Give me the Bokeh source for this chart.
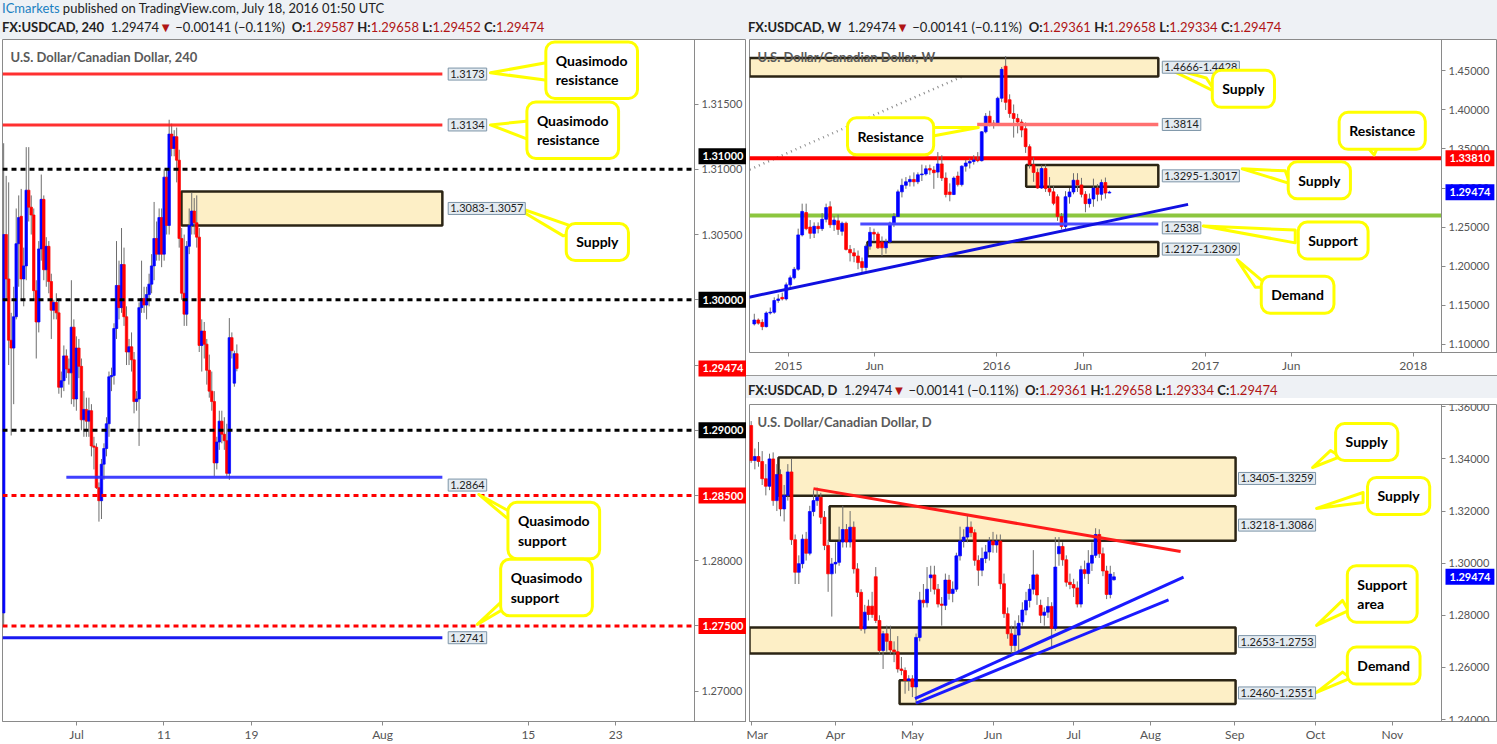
import numpy as np
import pandas as pd
from bokeh.plotting import figure
from bokeh.models import Range1d, FixedTicker, NumeralTickFormatter, Label, Div, ColumnDataSource
from bokeh.layouts import row, column
from bokeh.embed import file_html
from bokeh.resources import INLINE

# ------------------------------------------------------------------ data
# 4-hour candles, 24 Jun 2016 00:00 -> 18 Jul 2016 00:00
h4_first_day = "2016-06-24"
h4_last_day = "2016-07-18"
h4_open = [1.2760, 1.3050, 1.3016, 1.2969, 1.2963, 1.2987, 1.3043, 1.3064, 1.3016, 1.3026,
           1.3084, 1.3071, 1.3065, 1.3007, 1.2983, 1.3039, 1.3077, 1.3023, 1.3041, 1.3014,
           1.2992, 1.2998, 1.2990, 1.2933, 1.2938, 1.2957, 1.2947, 1.2944, 1.2979, 1.2924,
           1.2963, 1.2949, 1.2908, 1.2916, 1.2907, 1.2915, 1.2888, 1.2887, 1.2856, 1.2846,
           1.2874, 1.2886, 1.2905, 1.2941, 1.2942, 1.2978, 1.3011, 1.2994, 1.3027, 1.2987,
           1.2960, 1.2964, 1.2954, 1.2922, 1.2924, 1.2994, 1.3001, 1.2996, 1.3004, 1.3012,
           1.3026, 1.3047, 1.3035, 1.3063, 1.3035, 1.3094, 1.3057, 1.3127, 1.3116, 1.3125,
           1.3107, 1.3047, 1.3005, 1.2989, 1.3041, 1.3057, 1.3068, 1.3059, 1.3048, 1.2965,
           1.2976, 1.2966, 1.2946, 1.2930, 1.2922, 1.2875, 1.2891, 1.2907, 1.2897, 1.2892,
           1.2867, 1.2971, 1.29361, 1.29587]
h4_high = [1.3120, 1.3095, 1.3090, 1.2990, 1.3010, 1.3070, 1.3080, 1.3085, 1.3040, 1.3117,
           1.3117, 1.3080, 1.3070, 1.3015, 1.3045, 1.3096, 1.3080, 1.3048, 1.3045, 1.3020,
           1.3000, 1.3005, 1.3000, 1.2945, 1.2965, 1.2962, 1.2955, 1.3015, 1.2985, 1.2972,
           1.2970, 1.2955, 1.2930, 1.2925, 1.2925, 1.2920, 1.2895, 1.2890, 1.2860, 1.2878,
           1.2890, 1.2910, 1.2945, 1.2948, 1.2982, 1.3045, 1.3030, 1.3055, 1.3040, 1.2995,
           1.2970, 1.2975, 1.2960, 1.2930, 1.2998, 1.3030, 1.3010, 1.3010, 1.3020, 1.3035,
           1.3075, 1.3060, 1.3070, 1.3070, 1.3100, 1.3100, 1.3138, 1.3135, 1.3130, 1.3132,
           1.3115, 1.3055, 1.3050, 1.3045, 1.3070, 1.3082, 1.3078, 1.3080, 1.3055, 1.2985,
           1.2983, 1.2970, 1.2958, 1.2945, 1.2930, 1.2895, 1.2915, 1.2915, 1.2910, 1.2905,
           1.2986, 1.2975, 1.29610, 1.29658]
h4_low = [1.2750, 1.3000, 1.2950, 1.2896, 1.2920, 1.2985, 1.3010, 1.3000, 1.2995, 1.3015,
          1.3060, 1.3050, 1.3000, 1.2955, 1.2975, 1.3030, 1.3015, 1.3010, 1.3005, 1.2970,
          1.2985, 1.2985, 1.2928, 1.2925, 1.2930, 1.2940, 1.2935, 1.2920, 1.2918, 1.2915,
          1.2940, 1.2900, 1.2895, 1.2895, 1.2895, 1.2880, 1.2870, 1.2855, 1.2830, 1.2832,
          1.2862, 1.2880, 1.2895, 1.2930, 1.2935, 1.2970, 1.2985, 1.2990, 1.2980, 1.2950,
          1.2950, 1.2945, 1.2913, 1.2915, 1.2888, 1.2990, 1.2990, 1.2985, 1.2995, 1.3005,
          1.3015, 1.3030, 1.3030, 1.3025, 1.3030, 1.3050, 1.3050, 1.3110, 1.3110, 1.3090,
          1.3040, 1.3000, 1.2980, 1.2980, 1.3035, 1.3050, 1.3050, 1.3040, 1.2960, 1.2945,
          1.2955, 1.2935, 1.2925, 1.2915, 1.2865, 1.2870, 1.2885, 1.2890, 1.2885, 1.2865,
          1.2862, 1.2955, 1.29334, 1.29452]
h4_close = [1.3050, 1.3016, 1.2969, 1.2963, 1.2987, 1.3043, 1.3063, 1.3016, 1.3026, 1.3084,
            1.3071, 1.3065, 1.3007, 1.2983, 1.3039, 1.3077, 1.3023, 1.3041, 1.3014, 1.2992,
            1.2998, 1.2990, 1.2933, 1.2938, 1.2957, 1.2947, 1.2944, 1.2979, 1.2924, 1.2963,
            1.2949, 1.2908, 1.2916, 1.2907, 1.2915, 1.2888, 1.2887, 1.2856, 1.2846, 1.2874,
            1.2886, 1.2905, 1.2941, 1.2942, 1.2978, 1.3011, 1.2994, 1.3027, 1.2987, 1.2960,
            1.2964, 1.2954, 1.2922, 1.2924, 1.2994, 1.3001, 1.2996, 1.3004, 1.3012, 1.3026,
            1.3047, 1.3035, 1.3063, 1.3035, 1.3094, 1.3057, 1.3127, 1.3116, 1.3125, 1.3107,
            1.3047, 1.3005, 1.2989, 1.3041, 1.3057, 1.3068, 1.3059, 1.3048, 1.2965, 1.2976,
            1.2966, 1.2946, 1.2930, 1.2922, 1.2875, 1.2891, 1.2907, 1.2897, 1.2892, 1.2867,
            1.2971, 1.2961, 1.29587, 1.29474]
h4_tick_dates = ["2016-07-01", "2016-07-11", "2016-07-19", "2016-08-01", "2016-08-15", "2016-08-23"]
h4_tick_labels = ["Jul", "11", "19", "Aug", "15", "23"]

# weekly candles, week of 2 Nov 2014 -> week of 17 Jul 2016
w_first_week = "2014-11-02"
w_open = [1.1260, 1.1310, 1.1280, 1.1225, 1.1400, 1.1410, 1.1560, 1.1600, 1.1580, 1.1760,
          1.1850, 1.1960, 1.2400, 1.2686, 1.2500, 1.2420, 1.2510, 1.2480, 1.2600, 1.2760,
          1.2530, 1.2580, 1.2446, 1.2550, 1.2214, 1.2170, 1.2130, 1.2058, 1.1982, 1.2256,
          1.2433, 1.2412, 1.2310, 1.2234, 1.2310, 1.2551, 1.2635, 1.2951, 1.3035, 1.3080,
          1.3110, 1.3080, 1.3170, 1.3180, 1.3250, 1.3230, 1.3204, 1.3309, 1.3128, 1.2950,
          1.2917, 1.3153, 1.3044, 1.3280, 1.3320, 1.3340, 1.3360, 1.3350, 1.3720, 1.3920,
          1.3830, 1.3810, 1.4150, 1.4560, 1.4131, 1.3954, 1.3891, 1.3845, 1.3760, 1.3530,
          1.3300, 1.3200, 1.3000, 1.3250, 1.2993, 1.2951, 1.2888, 1.2635, 1.2508, 1.2888,
          1.2950, 1.3100, 1.3040, 1.2920, 1.2800, 1.2860, 1.3000, 1.2920, 1.3070, 1.29361]
w_high = [1.1390, 1.1330, 1.1320, 1.1420, 1.1470, 1.1600, 1.1640, 1.1660, 1.1790, 1.1880,
          1.1990, 1.2480, 1.2800, 1.2800, 1.2590, 1.2560, 1.2560, 1.2680, 1.2800, 1.2830,
          1.2640, 1.2660, 1.2570, 1.2570, 1.2270, 1.2230, 1.2200, 1.2110, 1.2280, 1.2500,
          1.2480, 1.2440, 1.2380, 1.2350, 1.2570, 1.2680, 1.2980, 1.3120, 1.3140, 1.3160,
          1.3200, 1.3200, 1.3300, 1.3290, 1.3300, 1.3280, 1.3460, 1.3420, 1.3200, 1.3060,
          1.3150, 1.3210, 1.3290, 1.3360, 1.3380, 1.3420, 1.3460, 1.3730, 1.3960, 1.3990,
          1.3870, 1.4170, 1.4550, 1.4690, 1.4200, 1.4070, 1.3950, 1.3880, 1.3840, 1.3560,
          1.3390, 1.3250, 1.3290, 1.3300, 1.3140, 1.3030, 1.2920, 1.2680, 1.2960, 1.3000,
          1.3190, 1.3190, 1.3130, 1.2960, 1.2930, 1.3120, 1.3050, 1.3110, 1.3134, 1.29658]
w_low = [1.1240, 1.1250, 1.1180, 1.1215, 1.1380, 1.1390, 1.1530, 1.1560, 1.1560, 1.1720,
         1.1830, 1.1940, 1.2380, 1.2460, 1.2350, 1.2360, 1.2420, 1.2450, 1.2560, 1.2490,
         1.2450, 1.2400, 1.2390, 1.2200, 1.2060, 1.2050, 1.1960, 1.1920, 1.1940, 1.2210,
         1.2330, 1.2220, 1.2130, 1.2160, 1.2290, 1.2500, 1.2630, 1.2880, 1.2990, 1.3020,
         1.3020, 1.3050, 1.3090, 1.3160, 1.3170, 1.2990, 1.3130, 1.3090, 1.2880, 1.2830,
         1.2910, 1.3020, 1.3020, 1.3210, 1.3250, 1.3300, 1.3330, 1.3340, 1.3700, 1.3790,
         1.3760, 1.3800, 1.4100, 1.4000, 1.3900, 1.3646, 1.3700, 1.3650, 1.3450, 1.3250,
         1.3080, 1.2990, 1.2990, 1.2950, 1.2900, 1.2780, 1.2580, 1.2470, 1.2460, 1.2800,
         1.2920, 1.2950, 1.2880, 1.2690, 1.2750, 1.2760, 1.2830, 1.2840, 1.2864, 1.29334]
w_close = [1.1310, 1.1270, 1.1225, 1.1400, 1.1410, 1.1560, 1.1580, 1.1580, 1.1760, 1.1850,
           1.1960, 1.2400, 1.2700, 1.2480, 1.2420, 1.2510, 1.2480, 1.2600, 1.2750, 1.2530,
           1.2590, 1.2470, 1.2550, 1.2214, 1.2170, 1.2130, 1.2045, 1.1982, 1.2256, 1.2433,
           1.2410, 1.2234, 1.2234, 1.2310, 1.2551, 1.2635, 1.2951, 1.3035, 1.3080, 1.3110,
           1.3080, 1.3170, 1.3180, 1.3246, 1.3230, 1.3196, 1.3309, 1.3128, 1.2917, 1.2917,
           1.3128, 1.3044, 1.3280, 1.3320, 1.3340, 1.3360, 1.3350, 1.3720, 1.3920, 1.3830,
           1.3810, 1.4150, 1.4520, 1.4097, 1.3954, 1.3891, 1.3845, 1.3743, 1.3530, 1.3300,
           1.3200, 1.3000, 1.3250, 1.2993, 1.2951, 1.2804, 1.2635, 1.2508, 1.2888, 1.2950,
           1.3100, 1.3040, 1.2920, 1.2800, 1.2860, 1.3000, 1.2920, 1.3070, 1.2936, 1.29474]
w_tick_dates = ["2015-01-01", "2015-06-01", "2016-01-01", "2016-06-01", "2017-01-01", "2017-06-01", "2018-01-01"]
w_tick_labels = ["2015", "Jun", "2016", "Jun", "2017", "Jun", "2018"]

# daily candles, 1 Mar 2016 -> 18 Jul 2016 (business days)
d_first_day = "2016-03-01"
d_last_day = "2016-07-18"
d_open = [1.3528, 1.3394, 1.3409, 1.3390, 1.3324, 1.3295, 1.3400, 1.3240, 1.3340, 1.3208,
          1.3260, 1.3350, 1.3090, 1.2965, 1.2998, 1.3092, 1.3038, 1.3198, 1.3240, 1.3253,
          1.3176, 1.3068, 1.2959, 1.2997, 1.3003, 1.3081, 1.3129, 1.3081, 1.3138, 1.2978,
          1.2888, 1.2748, 1.2835, 1.2835, 1.2948, 1.2780, 1.2665, 1.2729, 1.2700, 1.2667,
          1.2660, 1.2594, 1.2588, 1.2550, 1.2556, 1.2525, 1.2715, 1.2858, 1.2848, 1.2944,
          1.2955, 1.2900, 1.2843, 1.2838, 1.2935, 1.2884, 1.2900, 1.3028, 1.3085, 1.3100,
          1.3138, 1.3117, 1.3011, 1.2973, 1.3018, 1.3043, 1.3085, 1.3070, 1.3085, 1.2921,
          1.2806, 1.2729, 1.2684, 1.2724, 1.2775, 1.2820, 1.2857, 1.2900, 1.2955, 1.2838,
          1.2800, 1.2812, 1.2834, 1.2750, 1.3036, 1.3064, 1.3013, 1.2927, 1.2918, 1.2905,
          1.2843, 1.2975, 1.2960, 1.3000, 1.3030, 1.3110, 1.3036, 1.2970, 1.2880, 1.29361]
d_high = [1.3545, 1.3440, 1.3465, 1.3430, 1.3380, 1.3420, 1.3425, 1.3380, 1.3360, 1.3300,
          1.3380, 1.3400, 1.3110, 1.3030, 1.3110, 1.3120, 1.3220, 1.3280, 1.3290, 1.3270,
          1.3200, 1.3090, 1.3020, 1.3080, 1.3140, 1.3220, 1.3150, 1.3200, 1.3160, 1.3000,
          1.2900, 1.2840, 1.2860, 1.2890, 1.2985, 1.2800, 1.2740, 1.2760, 1.2760, 1.2700,
          1.2720, 1.2640, 1.2600, 1.2570, 1.2570, 1.2730, 1.2890, 1.2920, 1.2985, 1.2990,
          1.2990, 1.2920, 1.2870, 1.2960, 1.2955, 1.2930, 1.3040, 1.3140, 1.3130, 1.3188,
          1.3160, 1.3130, 1.3030, 1.3060, 1.3070, 1.3100, 1.3120, 1.3110, 1.3110, 1.2960,
          1.2830, 1.2760, 1.2780, 1.2800, 1.2850, 1.2890, 1.2920, 1.3050, 1.2960, 1.2860,
          1.2830, 1.2870, 1.2850, 1.3100, 1.3100, 1.3080, 1.3030, 1.2960, 1.2940, 1.2930,
          1.2990, 1.3010, 1.3050, 1.3080, 1.3134, 1.3130, 1.3060, 1.2990, 1.2990, 1.29658]
d_low = [1.3385, 1.3360, 1.3370, 1.3300, 1.3260, 1.3280, 1.3220, 1.3200, 1.3180, 1.3160,
         1.3240, 1.3070, 1.2920, 1.2920, 1.2980, 1.3010, 1.3030, 1.3180, 1.3220, 1.3150,
         1.3050, 1.2890, 1.2795, 1.2960, 1.2990, 1.3060, 1.3060, 1.3060, 1.2960, 1.2870,
         1.2740, 1.2730, 1.2780, 1.2790, 1.2770, 1.2650, 1.2594, 1.2660, 1.2650, 1.2620,
         1.2580, 1.2570, 1.2499, 1.2510, 1.2486, 1.2460, 1.2700, 1.2830, 1.2830, 1.2890,
         1.2880, 1.2830, 1.2760, 1.2820, 1.2860, 1.2850, 1.2890, 1.3010, 1.3060, 1.3080,
         1.3100, 1.2990, 1.2913, 1.2950, 1.3000, 1.3010, 1.3040, 1.3040, 1.2900, 1.2790,
         1.2710, 1.2655, 1.2660, 1.2660, 1.2760, 1.2800, 1.2830, 1.2880, 1.2840, 1.2770,
         1.2760, 1.2790, 1.2677, 1.2740, 1.2990, 1.2990, 1.2910, 1.2900, 1.2870, 1.2830,
         1.2830, 1.2940, 1.2920, 1.2970, 1.3020, 1.3020, 1.2950, 1.2862, 1.2865, 1.29334]
d_close = [1.3394, 1.3409, 1.3390, 1.3324, 1.3295, 1.3400, 1.3240, 1.3340, 1.3208, 1.3260,
           1.3350, 1.3090, 1.2965, 1.2998, 1.3092, 1.3038, 1.3198, 1.3240, 1.3253, 1.3176,
           1.3068, 1.2959, 1.2997, 1.3003, 1.3081, 1.3129, 1.3081, 1.3138, 1.2978, 1.2888,
           1.2748, 1.2812, 1.2803, 1.2803, 1.2780, 1.2665, 1.2729, 1.2700, 1.2667, 1.2660,
           1.2594, 1.2588, 1.2550, 1.2556, 1.2525, 1.2715, 1.2858, 1.2848, 1.2900, 1.2955,
           1.2900, 1.2843, 1.2838, 1.2935, 1.2884, 1.2900, 1.3028, 1.3085, 1.3100, 1.3138,
           1.3117, 1.3011, 1.2973, 1.3018, 1.3043, 1.3085, 1.3070, 1.3085, 1.2921, 1.2806,
           1.2729, 1.2684, 1.2724, 1.2769, 1.2820, 1.2857, 1.2900, 1.2955, 1.2878, 1.2800,
           1.2812, 1.2834, 1.2750, 1.2985, 1.3064, 1.3013, 1.2927, 1.2918, 1.2905, 1.2843,
           1.2975, 1.2960, 1.3000, 1.3030, 1.3110, 1.3036, 1.2970, 1.2880, 1.2958, 1.29474]
d_tick_dates = ["2016-03-01", "2016-04-01", "2016-05-02", "2016-06-01", "2016-07-01",
                "2016-08-01", "2016-09-01", "2016-10-03", "2016-11-01"]
d_tick_labels = ["Mar", "Apr", "May", "Jun", "Jul", "Aug", "Sep", "Oct", "Nov"]

LAST_PRICE = 1.29474

# ------------------------------------------------------------------ style
FONT = "Lato"
UP, DOWN, WICK = "#0000ff", "#ff0000", "#6e6e6e"
ZONE_FILL, ZONE_LINE = "#fdefc6", "#2b2414"
TAG_FILL, TAG_LINE = "#e4ebf1", "#7d95a8"
YELLOW = "#ffff00"
GRAY_TXT = "#555555"
FRAME = "#8a8a8a"


def bday(ref, dates):
    return np.busday_count(np.datetime64(ref), np.array(dates, dtype="datetime64[D]")).astype(float)


def wday(dates):
    return np.array([(pd.Timestamp(d) - pd.Timestamp("2015-01-01")).days for d in dates], dtype=float)


def make_fig(w, h, xr, yr, mb_left, mb_top, mb_bottom, axis_px):
    """Chart area covers xr; the price scale sits at xr[1] and its labels use the
    remaining axis_px pixels of the frame (so price tags can be drawn there)."""
    chart_px = w - mb_left - axis_px
    x_end = xr[1] + axis_px * (xr[1] - xr[0]) / chart_px
    p = figure(width=w, height=h, x_range=Range1d(xr[0], x_end), y_range=Range1d(*yr),
               y_axis_location="right", toolbar_location=None, output_backend="svg",
               min_border_left=mb_left, min_border_right=0, min_border_top=mb_top,
               min_border_bottom=mb_bottom, background_fill_color="white",
               border_fill_color="white", outline_line_color=FRAME, margin=0)
    p.grid.visible = False
    for ax in (p.xaxis[0], p.yaxis[0]):
        ax.axis_line_color = FRAME
        ax.major_tick_line_color = FRAME
        ax.major_tick_in = 0
        ax.major_tick_out = 4
        ax.minor_tick_line_color = None
        ax.major_label_text_font = FONT
        ax.major_label_text_color = GRAY_TXT
        ax.major_label_standoff = 3
    p.yaxis[0].fixed_location = xr[1]
    p.yaxis[0].major_label_text_font_size = "11px"
    p.xaxis[0].major_label_text_font_size = "12px"
    p.xaxis[0].major_label_standoff = 1
    p.yaxis[0].formatter = NumeralTickFormatter(format="0.00000")
    return p


def candles(p, x, o, h, l, c, width):
    o, h, l, c = (np.asarray(v, dtype=float) for v in (o, h, l, c))
    src = ColumnDataSource(dict(x=x, top=np.maximum(o, c), bottom=np.minimum(o, c), h=h, l=l,
                                color=np.where(c >= o, UP, DOWN)))
    p.segment(x0="x", y0="l", x1="x", y1="h", source=src, line_color=WICK, line_width=1)
    p.vbar(x="x", top="top", bottom="bottom", width=width, source=src,
           fill_color="color", line_color="color", line_width=0.7)


def zone(p, x0, x1, lo, hi):
    p.quad(left=[x0], right=[x1], bottom=[lo], top=[hi], fill_color=ZONE_FILL,
           line_color=ZONE_LINE, line_width=2.5)


def hline(p, x0, x1, y, color, width, alpha=1.0, dash="solid"):
    p.segment(x0=[x0], y0=[y], x1=[x1], y1=[y], line_color=color, line_width=width,
              line_alpha=alpha, line_dash=dash)


def tag(p, x, y, text):
    p.add_layout(Label(x=x, y=y, text=text, text_font=FONT, text_font_size="11px",
                       text_color="#1e1e1e", text_align="left", text_baseline="middle",
                       background_fill_color=TAG_FILL, border_line_color=TAG_LINE,
                       border_line_width=1, padding=2))


def axis_tag(p, x, y, text, bg, y_offset=0):
    p.add_layout(Label(x=x, y=y, x_offset=4, y_offset=y_offset, text=text,
                       text_font=FONT, text_font_size="11px", text_font_style="bold",
                       text_color="white", text_align="left", text_baseline="middle",
                       background_fill_color=bg, padding=4))


def callout(p, x, y, text, tail):
    xs = [pt[0] for pt in tail]
    ys = [pt[1] for pt in tail]
    p.patch(xs, ys, fill_color="white", line_color=YELLOW, line_width=3, line_join="round")
    p.add_layout(Label(x=x, y=y, text=text, text_font=FONT, text_font_size="14px",
                       text_font_style="bold", text_color="black", text_align="left",
                       text_baseline="middle", text_line_height=1.15,
                       background_fill_color="white", border_line_color=YELLOW,
                       border_line_width=3, border_radius=9, padding=10))


def title(p, text, x, y):
    p.add_layout(Label(x=x, y=y, x_offset=8, y_offset=-17, text=text, text_font=FONT,
                       text_font_size="13px", text_font_style="bold", text_color="#5a5a5a",
                       text_align="left", text_baseline="middle"))


def header(html, w, h, pad_top, border_top=False):
    st = {"background-color": "#eef1f5", "font-family": FONT, "font-size": "13px",
          "color": "#222222", "padding-left": "2px", "padding-top": f"{pad_top}px",
          "line-height": "16px", "white-space": "nowrap", "overflow": "hidden",
          "box-sizing": "border-box"}
    if border_top:
        st["border-top"] = "1px solid #9a9a9a"
    return Div(text=html, width=w, height=h, styles=st, margin=0)


def quote_line(sym, tf, o, hi, lo, c):
    r = "#b01515"
    return (f"<b>{sym}, {tf}</b>&nbsp; 1.29474<span style='color:{r}'>&#9660;</span> "
            f"&minus;0.00141 (&minus;0.11%)&nbsp; <b>O:</b><span style='color:{r}'>{o}</span> "
            f"<b>H:</b><span style='color:{r}'>{hi}</span> <b>L:</b><span style='color:{r}'>{lo}</span> "
            f"<b>C:</b><span style='color:{r}'>{c}</span>")


# ------------------------------------------------------------------ H4 panel
H4_X = (-0.08, 47.4)
H4_Y = (1.26768, 1.31995)
p1 = make_fig(746, 705, H4_X, H4_Y, 2, 0, 23, 52)
h4_x = np.linspace(bday(h4_first_day, [h4_first_day])[0], bday(h4_first_day, [h4_last_day])[0], len(h4_open))
tk = bday(h4_first_day, h4_tick_dates)
p1.xaxis[0].ticker = FixedTicker(ticks=list(tk))
p1.xaxis[0].major_label_overrides = {float(t): s for t, s in zip(tk, h4_tick_labels)}
p1.yaxis[0].ticker = FixedTicker(ticks=[1.270, 1.275, 1.280, 1.285, 1.290, 1.295, 1.300, 1.305, 1.310, 1.315])

H4_LINE_END = 30.1
zone(p1, 12.2, H4_LINE_END, 1.3057, 1.3083)
candles(p1, h4_x, h4_open, h4_high, h4_low, h4_close, 0.17)
hline(p1, H4_X[0], H4_LINE_END, 1.3173, "#ff1a1a", 3, 0.9)
hline(p1, H4_X[0], H4_LINE_END, 1.3134, "#ff1a1a", 3, 0.9)
hline(p1, 4.3, H4_LINE_END, 1.2864, "#2b2bff", 3, 0.9)
hline(p1, H4_X[0], H4_LINE_END, 1.2741, "#0000ee", 3, 0.9)
for lvl in (1.31, 1.30, 1.29):
    hline(p1, H4_X[0], H4_X[1], lvl, "black", 3, dash="5 4")
for lvl in (1.285, 1.275):
    hline(p1, H4_X[0], H4_X[1], lvl, "#ff0000", 3, dash="5 4")
title(p1, "U.S. Dollar/Canadian Dollar, 240", H4_X[0], H4_Y[1])
H4_TAG_X = 30.5
tag(p1, H4_TAG_X, 1.3173, "1.3173")
tag(p1, H4_TAG_X, 1.3134, "1.3134")
tag(p1, H4_TAG_X, 1.3070, "1.3083-1.3057")
tag(p1, H4_TAG_X, 1.2864 - 0.0006, "1.2864")
tag(p1, H4_TAG_X, 1.2741, "1.2741")
callout(p1, 37.2, 1.3176, "Quasimodo\nresistance", [(33.4, 1.3174), (37.4, 1.3182), (37.4, 1.3168)])
callout(p1, 35.9, 1.3130, "Quasimodo\nresistance", [(33.4, 1.3134), (36.2, 1.31373), (36.2, 1.3122)])
callout(p1, 38.6, 1.30443, "Supply", [(34.9, 1.30723), (38.4, 1.30490), (39.6, 1.30540)])
callout(p1, 34.6, 1.28232, "Quasimodo\nsupport", [(32.6, 1.28508), (34.5, 1.28330), (35.5, 1.28330)])
callout(p1, 34.1, 1.27795, "Quasimodo\nsupport", [(32.5, 1.27512), (34.2, 1.27690), (35.2, 1.27690)])
axis_tag(p1, H4_X[1], 1.31, "1.31000", "black", y_offset=13)
axis_tag(p1, H4_X[1], 1.30, "1.30000", "black")
axis_tag(p1, H4_X[1], 1.29, "1.29000", "black")
axis_tag(p1, H4_X[1], 1.285, "1.28500", "#ff0000")
axis_tag(p1, H4_X[1], 1.275, "1.27500", "#ff0000")
axis_tag(p1, H4_X[1], LAST_PRICE, "1.29474", "#ff0000")

# ------------------------------------------------------------------ weekly panel
W_X = (-68.4, 1145.6)
W_Y = (1.0894, 1.4902)
p2 = make_fig(751, 336, W_X, W_Y, 3, 0, 19, 56)
w_dates = pd.date_range(w_first_week, periods=len(w_open), freq="7D")
w_x = wday(w_dates)
tk = wday(w_tick_dates)
p2.xaxis[0].ticker = FixedTicker(ticks=list(tk))
p2.xaxis[0].major_label_overrides = {float(t): s for t, s in zip(tk, w_tick_labels)}
p2.yaxis[0].ticker = FixedTicker(ticks=[1.10, 1.15, 1.20, 1.25, 1.30, 1.35, 1.40, 1.45])

W_END = 648.8
p2.line(wday(["2014-10-25", "2016-01-14"]), [1.3237, 1.4662], line_color="#8c8c8c",
        line_width=2.5, line_dash="1 4")
zone(p2, W_X[0], W_END, 1.4428, 1.4666)
zone(p2, 417.0, W_END, 1.3017, 1.3295)
zone(p2, 138.5, W_END, 1.2127, 1.2309)
hline(p2, W_X[0], W_X[1], 1.2648, "#8cc63f", 4)
hline(p2, W_X[0], W_X[1], 1.3381, "#ff0000", 4)
candles(p2, w_x, w_open, w_high, w_low, w_close, 5.0)
hline(p2, 331.0, W_END, 1.3814, "#ff7070", 3.5)
hline(p2, 126.0, W_END, 1.2538, "#4a4aff", 3)
p2.line(wday(["2014-10-24", "2016-12-02"]), [1.1602, 1.2791], line_color="#1010e0", line_width=3)
title(p2, "U.S. Dollar/Canadian Dollar, W", W_X[0], W_Y[1])
W_TAG_X = 655.8
tag(p2, W_TAG_X, 1.4547, "1.4666-1.4428")
tag(p2, W_TAG_X, 1.3814, "1.3814")
tag(p2, W_TAG_X, 1.3156, "1.3295-1.3017")
tag(p2, W_TAG_X, 1.2490, "1.2538")
tag(p2, W_TAG_X, 1.2218, "1.2127-1.2309")
callout(p2, 743.5, 1.4270, "Supply", [(657.5, 1.4561), (733.0, 1.4409), (749.0, 1.4232)])
callout(p2, 103.5, 1.3663, "Resistance", [(333.0, 1.3776), (222.7, 1.3776), (222.7, 1.3624)])
callout(p2, 966.0, 1.3732, "Resistance", [(1027.5, 1.3423), (1006.5, 1.3600), (1038.0, 1.3600)])
callout(p2, 876.7, 1.3100, "Supply", [(796.0, 1.3246), (871.5, 1.3220), (880.0, 1.3056)])
callout(p2, 894.3, 1.2329, "Support", [(727.7, 1.2513), (889.0, 1.2462), (889.0, 1.2298)])
callout(p2, 829.4, 1.1634, "Demand", [(787.0, 1.2083), (819.0, 1.1729), (845.0, 1.1729)])
axis_tag(p2, W_X[1], 1.3381, "1.33810", "#ff0000")
axis_tag(p2, W_X[1], LAST_PRICE, "1.29474", "#0000ff")

# ------------------------------------------------------------------ daily panel
D_X = (-0.46, 188.4)
D_Y = (1.23924, 1.36088)
p3 = make_fig(751, 346, D_X, D_Y, 3, 6, 23, 56)
d_dates = pd.bdate_range(d_first_day, d_last_day)
d_x = bday(d_first_day, d_dates.values.astype("datetime64[D]"))
tk = bday(d_first_day, d_tick_dates)
p3.xaxis[0].ticker = FixedTicker(ticks=list(tk))
p3.xaxis[0].major_label_overrides = {float(t): s for t, s in zip(tk, d_tick_labels)}
p3.yaxis[0].ticker = FixedTicker(ticks=[1.24, 1.26, 1.28, 1.30, 1.32, 1.34, 1.36])

D_END = 132.2
zone(p3, 7.45, D_END, 1.3259, 1.3405)
zone(p3, 21.4, D_END, 1.3086, 1.3218)
zone(p3, D_X[0], D_END, 1.2653, 1.2753)
zone(p3, 40.5, D_END, 1.2460, 1.2551)
candles(p3, d_x, d_open, d_high, d_low, d_close, 0.8)
p3.line([17.0, 117.2], [1.3286, 1.3045], line_color="#ff1a1a", line_width=3)
p3.line([44.7, 118.0], [1.2480, 1.2946], line_color="#1a1aff", line_width=3)
p3.line([45.0, 113.9], [1.2463, 1.2859], line_color="#1a1aff", line_width=3)
title(p3, "U.S. Dollar/Canadian Dollar, D", D_X[0], D_Y[1])
D_TAG_X = 133.0
tag(p3, D_TAG_X, 1.3332 - 0.0007, "1.3405-1.3259")
tag(p3, D_TAG_X, 1.3152 - 0.0006, "1.3218-1.3086")
tag(p3, D_TAG_X, 1.2703 - 0.0004, "1.2653-1.2753")
tag(p3, D_TAG_X, 1.2505 - 0.0003, "1.2460-1.2551")
callout(p3, 159.5, 1.3465, "Supply", [(153.2, 1.3367), (158.1, 1.3432), (160.8, 1.3409)])
callout(p3, 168.2, 1.3258, "Supply", [(154.3, 1.3210), (167.0, 1.3271), (167.0, 1.3233)])
callout(p3, 162.7, 1.2882, "Support\narea", [(154.3, 1.2761), (161.4, 1.2857), (163.0, 1.2818)])
callout(p3, 162.7, 1.2607, "Demand", [(154.3, 1.2504), (161.4, 1.2582), (163.6, 1.2559)])
axis_tag(p3, D_X[1], LAST_PRICE, "1.29474", "#0000ff")

# ------------------------------------------------------------------ headers & layout
hdr_l = header("<div style='height:19px'><span style='color:#1a7fc1'>ICmarkets</span> published on "
               "TradingView.com, July 18, 2016 01:50 UTC</div>" +
               quote_line("FX:USDCAD", "240", "1.29587", "1.29658", "1.29452", "1.29474"),
               746, 39, 0)
hdr_w = header(quote_line("FX:USDCAD", "W", "1.29361", "1.29658", "1.29334", "1.29474"),
               751, 39, 19)
hdr_d = header(quote_line("FX:USDCAD", "D", "1.29361", "1.29658", "1.29334", "1.29474"),
               751, 23, 6, border_top=True)

layout = row(column(hdr_l, p1, spacing=0, margin=0), column(hdr_w, p2, hdr_d, p3, spacing=0, margin=0),
             spacing=0, margin=0)
open("out.html", "w").write(file_html(layout, INLINE))
